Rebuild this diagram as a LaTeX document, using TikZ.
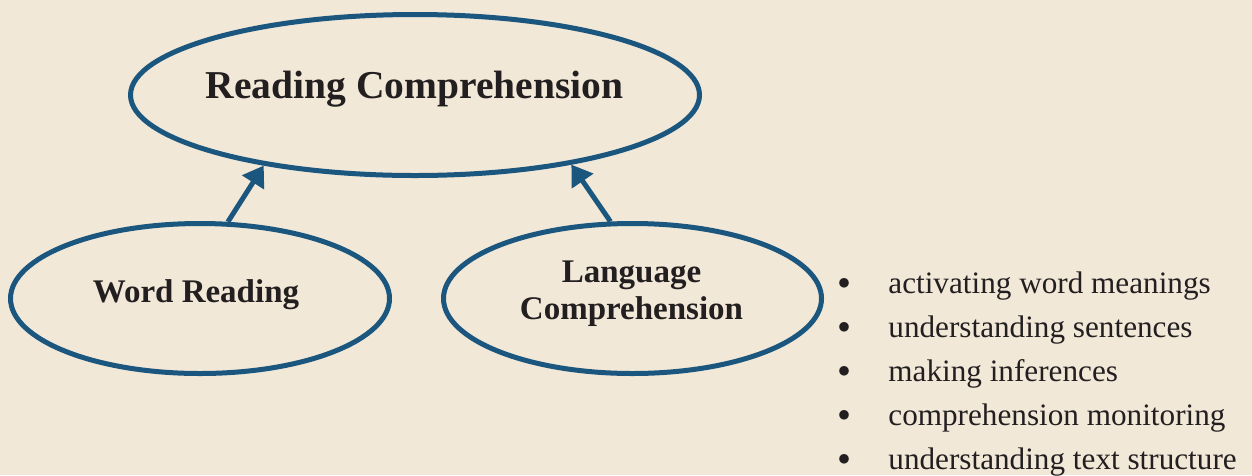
\documentclass[tikz,border=0pt]{standalone}
\usepackage{fontspec}
\setmainfont{Liberation Serif}
\usepackage{tikz}
\usetikzlibrary{shapes.geometric}
\usetikzlibrary{arrows.meta}
\usetikzlibrary{positioning}

\definecolor{paper}{RGB}{241,232,216}
\definecolor{ringblue}{RGB}{27,86,127}
\definecolor{ink}{RGB}{35,31,32}

\begin{document}
\begin{tikzpicture}[x=0.5pt,y=-0.5pt,
ring/.style={ellipse,draw=ringblue,line width=2.5pt,inner sep=0pt},
title/.style={inner sep=0pt,text=ink,font=\bfseries\fontsize{19.75}{22}\selectfont},
label/.style={inner sep=0pt,text=ink,align=center,font=\bfseries\fontsize{16.5}{18.5}\selectfont},
item/.style={inner sep=0pt,text=ink,font=\fontsize{15.6}{18}\selectfont},
dot/.style={inner sep=0pt,text=ink,font=\fontsize{15.6}{18}\selectfont},
up/.style={draw=ringblue,line width=2.5pt,-{Triangle[length=10pt,width=12.5pt]}}
]
\fill[paper] (0,0) rectangle (1252,475);

\node[ring,minimum width=284.5pt,minimum height=80.5pt] (rc) at (415,95) {};
\node[ring,minimum width=189.5pt,minimum height=75pt] (wr) at (200,298.5) {};
\node[ring,minimum width=189pt,minimum height=75pt] (lc) at (632.5,298.5) {};

\node[title,anchor=base] (rc-t) at (414.5,98) {Reading Comprehension};
\node[label,anchor=base] (wr-t) at (196,302) {Word Reading};
\node[label,anchor=base] (lc-t) at (631.5,319) {Language\\Comprehension};

\draw[up] (wr.70) -- (rc.205);
\draw[up] (lc.106) -- (rc.336);

% what language comprehension takes
\foreach \txt [count=\i] in {activating word meanings,understanding sentences,making inferences,comprehension monitoring,understanding text structure}
{
\node[item,anchor=base west] (item-\i) at (888,249+44*\i) {\txt};
\node[dot,base left=18pt of item-\i,yshift=-1.5pt] (dot-\i) {\scalebox{1.28}{\textbullet}};
}
\end{tikzpicture}
\end{document}
